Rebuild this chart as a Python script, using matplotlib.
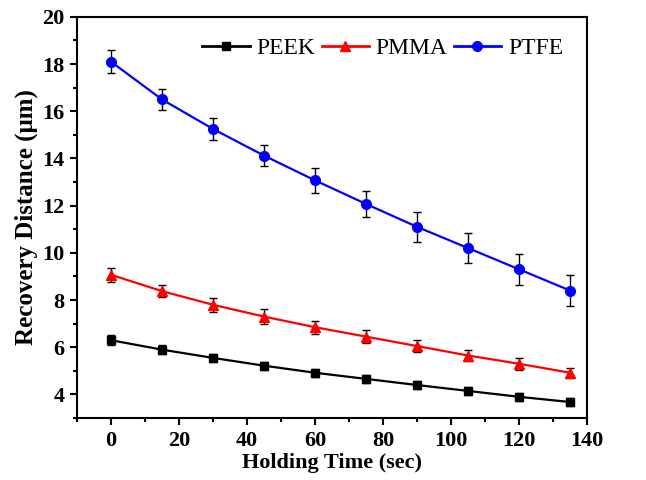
import matplotlib
matplotlib.use("Agg")
import matplotlib.pyplot as plt
from matplotlib.ticker import MultipleLocator
from matplotlib.lines import Line2D

time = [0, 15, 30, 45, 60, 75, 90, 105, 120, 135]
peek = [6.3, 5.9, 5.55, 5.22, 4.92, 4.66, 4.4, 4.15, 3.9, 3.68]
peek_err = [0.2, 0.18, 0.18, 0.17, 0.17, 0.17, 0.18, 0.17, 0.17, 0.18]
pmma = [9.07, 8.38, 7.8, 7.3, 6.85, 6.45, 6.05, 5.65, 5.3, 4.92]
pmma_err = [0.3, 0.27, 0.3, 0.3, 0.28, 0.28, 0.26, 0.25, 0.25, 0.22]
ptfe = [18.1, 16.5, 15.25, 14.12, 13.07, 12.07, 11.1, 10.2, 9.3, 8.4]
ptfe_err = [0.5, 0.45, 0.45, 0.45, 0.52, 0.57, 0.62, 0.62, 0.65, 0.66]

plt.rcParams['font.family'] = ['Liberation Serif', 'DejaVu Serif']

fig = plt.figure(figsize=(6.46, 4.8), dpi=100)
ax = fig.add_axes([0.119, 0.129, 0.79, 0.836])

common = dict(ecolor='black', elinewidth=1.0, capsize=3, capthick=1.0, lw=1.6)
series = [
    (peek, peek_err, 'black', 's', 5.5, 'PEEK'),
    (pmma, pmma_err, 'red', '^', 7.5, 'PMMA'),
    (ptfe, ptfe_err, 'blue', 'o', 7.0, 'PTFE'),
]
handles = []
for vals, errs, col, mk, ms, name in series:
    ax.errorbar(time, vals, yerr=errs, color=col, marker=mk, ms=ms, **common)
    handles.append(Line2D([], [], color=col, marker=mk, ms=ms, lw=2.0, label=name))

ax.set_xlim(-10, 140)
ax.set_ylim(3, 20)
ax.xaxis.set_major_locator(MultipleLocator(20))
ax.xaxis.set_minor_locator(MultipleLocator(10))
ax.yaxis.set_major_locator(MultipleLocator(2))
ax.yaxis.set_minor_locator(MultipleLocator(1))
ax.tick_params(which='both', direction='out', top=False, right=False, width=1.5)
ax.tick_params(which='major', length=5, labelsize=16, pad=4)
ax.tick_params(which='minor', length=3)
for lbl in ax.get_xticklabels() + ax.get_yticklabels():
    lbl.set_fontweight('bold')
for s in ax.spines.values():
    s.set_linewidth(1.5)

ax.set_xlabel('Holding Time (sec)', fontsize=16, fontweight='bold', labelpad=2)
ax.set_ylabel('Recovery Distance (μm)', fontsize=18, fontweight='bold', labelpad=3)

ax.legend(handles=handles, loc='upper right', ncol=3, frameon=False, fontsize=17,
          handlelength=2.0, columnspacing=0.25, handletextpad=0.3,
          borderaxespad=0.3, bbox_to_anchor=(0.985, 0.99))

fig.savefig('out.png', dpi=100)
